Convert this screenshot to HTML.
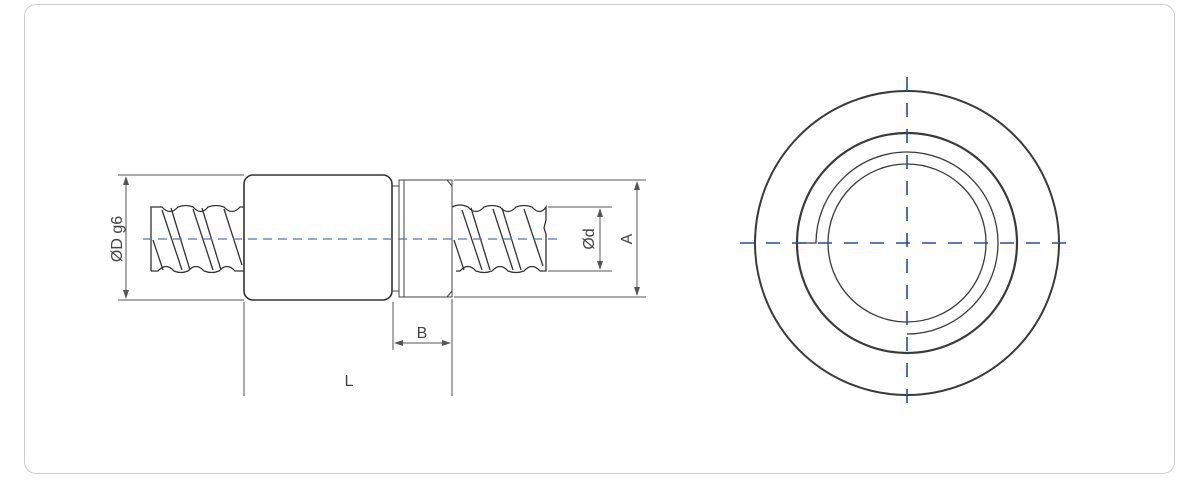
<!DOCTYPE html>
<html><head><meta charset="utf-8"><style>
html,body{margin:0;padding:0;background:#fff;}
body{width:1200px;height:485px;overflow:hidden;position:relative;}
.card{position:absolute;left:24px;top:4px;width:1151px;height:470px;border:1px solid #cfcfcf;border-radius:12px;box-sizing:border-box;}
svg{position:absolute;left:0;top:0;}
text{font-family:"Liberation Sans",sans-serif;font-size:16px;fill:#444;}
</style></head><body>
<div class="card"></div>
<svg width="1200" height="485" viewBox="0 0 1200 485">
<g fill="none" stroke="#555" stroke-width="1">
 <line x1="118" y1="175" x2="244" y2="175"/>
 <line x1="118" y1="300" x2="244" y2="300"/>
 <line x1="548" y1="207" x2="612" y2="207"/>
 <line x1="548" y1="271" x2="612" y2="271"/>
 <line x1="454" y1="180" x2="646" y2="180"/>
 <line x1="454" y1="297" x2="646" y2="297"/>
 <line x1="393" y1="302" x2="393" y2="350"/>
 <line x1="452" y1="299" x2="452" y2="396"/>
 <line x1="244" y1="302" x2="244" y2="396"/>
 <line x1="126" y1="178" x2="126" y2="297"/>
 <line x1="600" y1="210" x2="600" y2="268"/>
 <line x1="637" y1="183" x2="637" y2="294"/>
 <line x1="396" y1="343" x2="449" y2="343"/>
</g>
<g fill="#555">
 <polygon points="126,176 123,185 129,185"/><polygon points="126,299 123,290 129,290"/>
 <polygon points="600,208 597,217 603,217"/><polygon points="600,270 597,261 603,261"/>
 <polygon points="637,181 634,190 640,190"/><polygon points="637,296 634,287 640,287"/>
 <polygon points="394,343 403,340 403,346"/><polygon points="451,343 442,340 442,346"/>
</g>
<g fill="none" stroke="#333" stroke-width="1.3">
 <path d="M151,271 L151,207 L162,207 Q170,216 178,207 Q186,204 193,207 Q201,216 208,207 Q216,204 224,207 Q232,216 240,207 L244,207"/>
 <path d="M151,271 L158,271 Q166,262 174,271 Q181,274 188,271 Q196,262 204,271 Q212,274 219,271 Q227,262 235,271 L244,271"/>
 <line x1="162" y1="210" x2="182" y2="270"/><line x1="171" y1="208" x2="190" y2="270"/>
 <line x1="193" y1="209" x2="213" y2="270"/><line x1="202" y1="208" x2="221" y2="270"/>
 <line x1="224" y1="209" x2="242" y2="265"/><line x1="153" y1="240" x2="163" y2="270"/>
 <path d="M452,207 Q460,203 468,207 Q476,216 484,207 Q492,204 500,207 Q508,216 516,207 Q524,204 532,207 Q540,216 546,207 L546,220 L544,228 L546,234 L546,271 L540,271 Q532,262 524,271 Q516,274 508,271 Q500,262 492,271 Q484,274 476,271 Q468,262 460,271 L456,271"/>
 <line x1="462" y1="210" x2="482" y2="270"/><line x1="471" y1="208" x2="490" y2="270"/>
 <line x1="493" y1="209" x2="513" y2="270"/><line x1="502" y1="208" x2="521" y2="270"/>
 <line x1="524" y1="209" x2="543" y2="266"/><line x1="454" y1="240" x2="464" y2="270"/>
</g>
<rect x="244" y="175" width="148" height="125" rx="9" fill="#fff" stroke="#333" stroke-width="1.6"/>
<g fill="none" stroke="#444" stroke-width="1">
 <rect x="399" y="180" width="53" height="117" fill="#fff"/>
 <line x1="404" y1="180" x2="404" y2="297"/>
 <line x1="392" y1="186" x2="399" y2="186"/><line x1="392" y1="291" x2="399" y2="291"/>
 <line x1="447" y1="180" x2="452" y2="186"/><line x1="447" y1="297" x2="452" y2="291"/>
</g>
<line x1="143" y1="239" x2="562" y2="239" stroke="#4a78c8" stroke-width="1.3" stroke-dasharray="9,6"/>
<text x="118" y="239" transform="rotate(-90 118 239)" text-anchor="middle" dominant-baseline="middle">ØD g6</text>
<text x="590" y="239" transform="rotate(-90 590 239)" text-anchor="middle" dominant-baseline="middle">Ød</text>
<text x="628" y="239" transform="rotate(-90 628 239)" text-anchor="middle" dominant-baseline="middle">A</text>
<text x="422" y="338" text-anchor="middle">B</text>
<text x="349" y="386" text-anchor="middle">L</text>
<g fill="none" stroke="#3a3a3a">
 <circle cx="907" cy="243" r="152" stroke-width="2"/>
 <circle cx="907" cy="243" r="110" stroke-width="2.2"/>
 <circle cx="907" cy="243" r="79" stroke-width="1.3"/>
 <path d="M797,243 L816,243 A91,91 0 1 1 907,334 L911,334" stroke-width="1.3"/>
</g>
<g stroke="#1f4fa8" stroke-width="1.6" stroke-dasharray="14,12">
 <line x1="740" y1="243" x2="1076" y2="243"/>
 <line x1="907" y1="77" x2="907" y2="410"/>
</g>
</svg>
</body></html>
